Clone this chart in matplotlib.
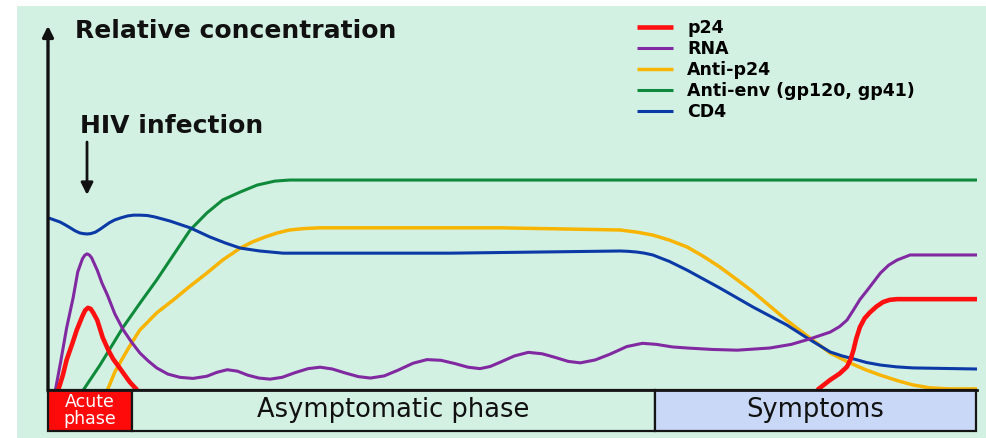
import matplotlib
matplotlib.use("Agg")
import matplotlib.pyplot as plt
import numpy as np
from matplotlib.patches import Rectangle

W, H = 986, 438

# ---- data: time (arbitrary units, 0-100) vs relative concentration (0-100)
p24_t = [1.1, 1.6, 2.0, 2.6, 3.1, 3.7, 4.0, 4.3, 4.6, 4.9, 5.3, 5.9, 6.5, 7.0, 7.6, 8.1, 8.8, 9.6,
         np.nan, 82.8, 84.2, 85.2, 86.0, 86.4, 86.7, 87.0, 87.4, 87.9, 88.5, 89.2, 89.9,
         90.6, 91.4, 100]
p24_c = [0, 4.1, 8.3, 12.7, 16.6, 20.4, 22.0, 22.7, 22.4, 21.2, 19.3, 14.4, 11.0, 8.6, 6.5, 4.7, 2.2, 0,
         np.nan, 0, 2.8, 4.5, 6.4, 8.5, 11.0, 14.2, 17.4, 19.8, 21.5, 23.1, 24.3,
         24.9, 25.1, 25.1]

rna_t = [0.8, 1.4, 2.0, 2.7, 3.2, 3.7, 3.95, 4.2, 4.45, 4.7, 5.3, 5.8, 6.4, 7.2, 8.1, 9.0,
         9.9, 10.8, 11.7, 12.9, 14.2, 15.6, 17.1, 18.2, 19.3, 20.4, 21.5, 22.7, 23.9,
         25.2, 26.6, 28.0, 29.3, 30.6, 32.0, 33.4, 34.7, 36.2, 37.7, 39.3, 40.8, 42.3,
         43.8, 45.2, 46.5, 47.6, 48.7, 50.2, 51.7, 53.2, 54.6, 56.0, 57.3, 58.9, 60.5,
         62.3, 64.0, 65.5, 67.2, 68.8, 71.5, 74.2, 77.7, 80.0, 82.0, 84.2, 85.2, 86.0,
         86.7, 87.4, 88.2, 89.6, 90.5, 91.4, 92.8, 100]
rna_c = [0, 8.3, 17.1, 25.4, 32.6, 36.2, 37.2, 37.6, 37.3, 36.5, 33.1, 29.6, 26.2, 21.0, 16.6, 13.2,
         10.2, 8.0, 6.1, 4.4, 3.5, 3.2, 3.8, 4.9, 5.6, 5.2, 4.1, 3.3, 3.0,
         3.5, 4.8, 5.9, 6.3, 5.8, 4.7, 3.7, 3.3, 3.9, 5.5, 7.4, 8.4, 8.2,
         7.3, 6.3, 5.9, 6.5, 7.7, 9.4, 10.4, 10.0, 9.0, 7.9, 7.5, 8.3, 9.9,
         12.0, 12.9, 12.6, 11.9, 11.6, 11.2, 11.0, 11.6, 12.6, 14.1, 16.0, 17.5, 19.3,
         22.1, 25.0, 27.6, 32.3, 34.5, 35.9, 37.3, 37.3]

anti_p24_t = [6.4, 7.2, 8.1, 9.0, 9.9, 11.7, 13.5, 15.3, 17.1, 18.8, 20.7, 22.0, 23.4, 24.7,
              26.0, 27.6, 29.3, 48.7, 61.6, 63.4, 65.1, 66.9, 68.8, 70.5, 72.3, 74.1,
              75.9, 77.7, 79.5, 82.0, 84.2, 86.3, 88.0, 89.6, 91.4, 93.1, 94.9, 97.0, 100]
anti_p24_c = [0, 5.0, 9.1, 13.0, 16.6, 21.3, 24.9, 28.7, 32.3, 35.9, 39.2, 40.9, 42.3, 43.4,
              44.2, 44.6, 44.8, 44.8, 44.2, 43.6, 42.8, 41.4, 39.5, 37.0, 34.0, 30.6,
              27.1, 23.2, 19.3, 14.4, 10.2, 7.5, 5.6, 4.1, 2.6, 1.4, 0.6, 0.3, 0.3]

anti_env_t = [3.8, 5.6, 8.1, 9.9, 11.7, 13.5, 15.3, 17.1, 18.8, 20.7, 22.5, 24.4, 26.0, 100]
anti_env_c = [0, 6.9, 17.4, 24.0, 30.4, 37.3, 44.2, 48.9, 52.5, 54.7, 56.6, 57.7, 58.0, 58.0]

cd4_t = [0.1, 1.3, 1.8, 2.4, 2.9, 3.4, 3.8, 4.2, 4.6, 5.1, 5.6, 6.1, 6.6, 7.2, 7.9, 8.6, 9.2,
         9.9, 10.7, 11.5, 13.1, 15.3, 17.4, 19.1, 20.7, 22.8, 25.3, 43.3, 61.6, 62.5,
         63.4, 64.2, 65.1, 66.9, 68.8, 72.3, 75.9, 79.5, 81.7, 84.2, 85.5, 86.7, 88.1,
         89.6, 91.3, 93.1, 100]
cd4_c = [47.5, 46.4, 45.7, 44.8, 44.0, 43.4, 43.2, 43.1, 43.2, 43.6, 44.4, 45.3, 46.2, 47.0, 47.6,
         48.1, 48.3, 48.3, 48.2, 47.8, 46.7, 44.8, 42.3, 40.6, 39.2, 38.4, 37.8, 37.8, 38.4, 38.3,
         38.1, 37.8, 37.3, 35.5, 33.1, 28.2, 22.9, 18.0, 14.4, 10.5, 9.4, 8.6, 7.6,
         6.9, 6.4, 6.1, 5.8]

series_labels = ["p24", "RNA", "Anti-p24", "Anti-env (gp120, gp41)", "CD4"]

phase_names = ["Acute\nphase", "Asymptomatic phase", "Symptoms"]
phase_start = [0, 9.0, 65.3]
phase_end = [9.0, 65.3, 99.9]

infection_t = 4.2

# ---- styling
BG = "#d3f1e3"
colors = ["#ff1010", "#8029a0", "#f7b400", "#0f8a3a", "#0b3aa6"]
widths = [3.3, 2.2, 2.5, 2.2, 2.2]
phase_fill = ["#ff0a0a", BG, "#c9d8f7"]
phase_text = ["white", "#111111", "#111111"]
phase_size = [12.5, 18.5, 18.5]

fig = plt.figure(figsize=(W / 100, H / 100), dpi=100, facecolor="white")
fig.patches.append(Rectangle((17 / W, 0), 1 - 17 / W, 1 - 6 / H,
                             transform=fig.transFigure, facecolor=BG,
                             edgecolor="none", zorder=-5))

ax = fig.add_axes([48 / W, (H - 390) / H, 929 / W, 362 / H])
ax.set_xlim(0, 100)
ax.set_ylim(0, 100)
ax.axis("off")

all_t = [p24_t, rna_t, anti_p24_t, anti_env_t, cd4_t]
all_c = [p24_c, rna_c, anti_p24_c, anti_env_c, cd4_c]
order = [3, 2, 4, 1, 0]  # drawing order (red on top)
handles = {}
for i in order:
    ln, = ax.plot(all_t[i], all_c[i], color=colors[i], lw=widths[i],
                  solid_capstyle="butt", solid_joinstyle="round",
                  clip_on=False, label=series_labels[i], zorder=3 + order.index(i))
    handles[i] = ln

# phase boxes below the baseline
box_depth = 11.3
for name, s, e, fc, tc, fs in zip(phase_names, phase_start, phase_end,
                                  phase_fill, phase_text, phase_size):
    ax.add_patch(Rectangle((s, -box_depth), e - s, box_depth, facecolor=fc,
                           edgecolor="#151515", lw=1.6, clip_on=False, zorder=10))
    ax.text((s + e) / 2, -box_depth / 2, name, ha="center", va="center",
            color=tc, fontsize=fs, linespacing=0.95, zorder=11, clip_on=False)

# y axis arrow
ax.annotate("", xy=(0, 100.6), xytext=(0, -0.3),
            arrowprops=dict(arrowstyle="-|>", lw=2.4, color="#111111",
                            mutation_scale=16, shrinkA=0, shrinkB=0),
            annotation_clip=False, zorder=12)
ax.plot([0, 100], [0, 0], color="#151515", lw=2.0, clip_on=False, zorder=10)

# HIV infection arrow
ax.annotate("", xy=(infection_t, 53.9), xytext=(infection_t, 68.5),
            arrowprops=dict(arrowstyle="-|>", lw=2.0, color="#111111",
                            mutation_scale=18, shrinkA=0, shrinkB=0),
            annotation_clip=False)

fig.text(75 / W, 1 - 31 / H, "Relative concentration", fontsize=18,
         fontweight="bold", color="#111111", ha="left", va="center")
fig.text(80 / W, 1 - 126 / H, "HIV infection", fontsize=18,
         fontweight="bold", color="#111111", ha="left", va="center")

fig.legend([handles[i] for i in range(5)], series_labels,
           loc="upper left", bbox_to_anchor=(637 / W, 1 - 19 / H),
           frameon=False, handlelength=2.1, handletextpad=0.8,
           labelspacing=0.17, borderpad=0, borderaxespad=0,
           prop={"weight": "bold", "size": 12.5})

fig.savefig("out.png", dpi=100, facecolor="white")
